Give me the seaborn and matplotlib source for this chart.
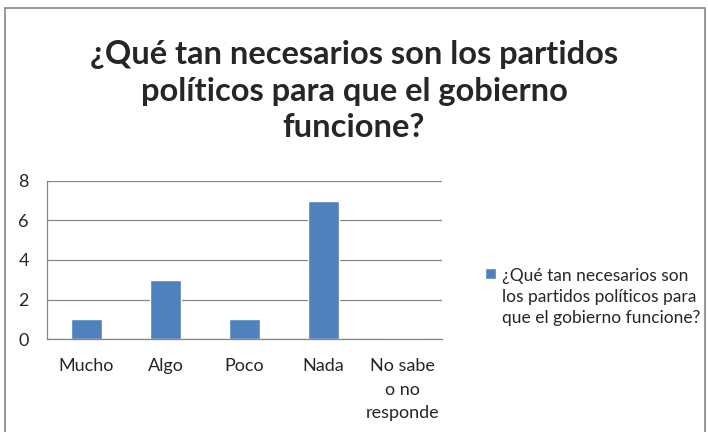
import matplotlib
matplotlib.use("Agg")
import matplotlib.pyplot as plt
import seaborn as sns
import pandas as pd
from matplotlib.patches import Rectangle

categories = ["Mucho", "Algo", "Poco", "Nada", "No sabe\no no\nresponde"]
values = [1, 3, 1, 7, 0]
series_name = "¿Qué tan necesarios son\nlos partidos políticos para\nque el gobierno funcione?"
title = "¿Qué tan necesarios son los partidos\npolíticos para que el gobierno\nfuncione?"
yticks = [0, 2, 4, 6, 8]

df = pd.DataFrame({"cat": categories, "val": values, "serie": [series_name] * len(values)})

sns.set_style("white")
plt.rcParams["font.family"] = ["Lato", "DejaVu Sans"]

fig = plt.figure(figsize=(7.08, 4.32), dpi=100)
ax = fig.add_axes([47 / 708, 1 - 339 / 432, (442 - 47) / 708, (339 - 181) / 432])

sns.barplot(data=df, x="cat", y="val", hue="serie", palette=["#4F81BD"], width=0.4,
            ax=ax, saturation=1, legend=True)

ax.set_ylim(0, 8)
ax.set_xlim(-0.5, 4.5)
ax.set_yticks(yticks)
ax.set_yticklabels([str(t) for t in yticks], fontsize=13)
ax.set_xlabel("")
ax.set_ylabel("")
ax.yaxis.grid(True, color="#868686", linewidth=0.9)
ax.set_axisbelow(True)
for s in ["top", "right"]:
    ax.spines[s].set_visible(False)
for s in ["left", "bottom"]:
    ax.spines[s].set_color("#868686")
    ax.spines[s].set_linewidth(0.9)

# category labels and boundary ticks
ax.set_xticks([0, 1, 2, 3, 4])
ax.set_xticklabels(categories, fontsize=13, linespacing=1.55, va="top")
ax.tick_params(axis="x", length=0, pad=14)
ax.set_xticks([-0.5, 0.5, 1.5, 2.5, 3.5, 4.5], minor=True)
ax.tick_params(axis="x", which="minor", length=5, color="#868686", width=0.9, direction="out")
ax.tick_params(axis="y", length=5, color="#868686", width=0.9, direction="out", pad=8)

leg = ax.legend(loc="center left", bbox_to_anchor=(469 / 708, 1 - 297 / 432),
                bbox_transform=fig.transFigure, frameon=False, fontsize=12.5,
                handlelength=0.65, handleheight=0.65, handletextpad=0.35, labelspacing=0.3)
for t in leg.get_texts():
    t.set_linespacing(1.4)
# align the legend marker with the first line of text
for col in leg._legend_handle_box.get_children():
    for item in col.get_children():
        item.align = "top"

fig.text(0.5, 1 - 91 / 432, title, ha="center", va="center", fontsize=23.5, fontweight="bold",
         linespacing=1.33)

border = Rectangle((5 / 708, -0.1), 700 / 708, 1 - 8 / 432 + 0.1, transform=fig.transFigure,
                   fill=False, edgecolor="#868686", linewidth=1.2)
fig.add_artist(border)

fig.savefig("out.png", dpi=100)
